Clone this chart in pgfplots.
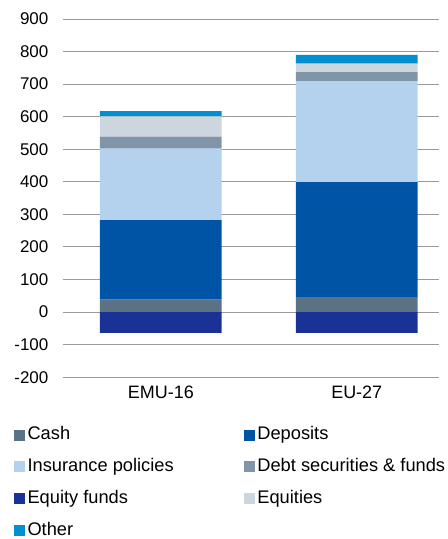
\documentclass[border=0pt]{standalone}
\usepackage{pgfplots}
\pgfplotsset{compat=1.18}
\usepackage{fontspec}
\setmainfont{Liberation Sans}
\definecolor{cCash}{HTML}{5B7285}
\definecolor{cDep}{HTML}{0054A6}
\definecolor{cIns}{HTML}{B4D2EE}
\definecolor{cDebt}{HTML}{8096A8}
\definecolor{cEqF}{HTML}{1A3296}
\definecolor{cEqu}{HTML}{CDD5DE}
\definecolor{cOth}{HTML}{0090D0}
\definecolor{gridgray}{HTML}{9A9A9A}
\pgfplotsset{sqleg/.style={legend image code/.code={\fill[#1] (0pt,-5pt) rectangle (10pt,5pt);}}}
\begin{document}
\begin{tikzpicture}
\begin{axis}[
  name=main,
  scale only axis, width=377pt, height=359pt,
  ybar stacked, bar width=122pt,
  xmin=-0.5, xmax=1.42, ymin=-200, ymax=900,
  xtick={0,1}, xticklabels={EMU-16,EU-27},
  ytick={-200,-100,...,900},
  ymajorgrids, grid style={draw=gridgray, line width=0.9pt},
  axis line style={draw=none},
  major tick length=0pt,
  /pgf/number format/assume math mode=true,
  yticklabel style={font=\fontsize{17}{17}\selectfont, xshift=-11pt},
  xticklabel style={font=\fontsize{18}{18}\selectfont, yshift=-5pt},
  legend columns=2,
  legend style={at={(0,0)}, anchor=north west, xshift=-49pt, yshift=-49pt,
    draw=none, inner sep=0pt, row sep=15pt,
    nodes={inner sep=0pt, text height=13pt, text depth=4pt, font=\fontsize{18.3}{18.3}\selectfont}},
  /tikz/every odd column/.append style={column sep=3pt},
  /tikz/every even column/.append style={column sep=70.5pt},
  legend cell align=left,
]
\addplot[fill=cEqF, draw=none, forget plot] coordinates {(0,-64) (1,-64)};
\addplot[fill=cCash, draw=none, forget plot] coordinates {(0,38) (1,46)};
\addplot[fill=cDep, draw=none, forget plot] coordinates {(0,244) (1,353)};
\addplot[fill=cIns, draw=none, forget plot] coordinates {(0,220) (1,310)};
\addplot[fill=cDebt, draw=none, forget plot] coordinates {(0,37) (1,28)};
\addplot[fill=cEqu, draw=none, forget plot] coordinates {(0,62) (1,26)};
\addplot[fill=cOth, draw=none, forget plot] coordinates {(0,16) (1,27)};
\addlegendimage{sqleg=cCash}\addlegendentry{Cash}
\addlegendimage{sqleg=cDep}\addlegendentry{Deposits}
\addlegendimage{sqleg=cIns}\addlegendentry{Insurance policies}
\addlegendimage{sqleg=cDebt}\addlegendentry{Debt securities \& funds}
\addlegendimage{sqleg=cEqF}\addlegendentry{Equity funds}
\addlegendimage{sqleg=cEqu}\addlegendentry{Equities}
\addlegendimage{sqleg=cOth}\addlegendentry{Other}
\end{axis}
\useasboundingbox ([xshift=-63pt,yshift=19pt]main.north west) rectangle ([xshift=9pt,yshift=-161pt]main.south east);
\end{tikzpicture}
\end{document}
